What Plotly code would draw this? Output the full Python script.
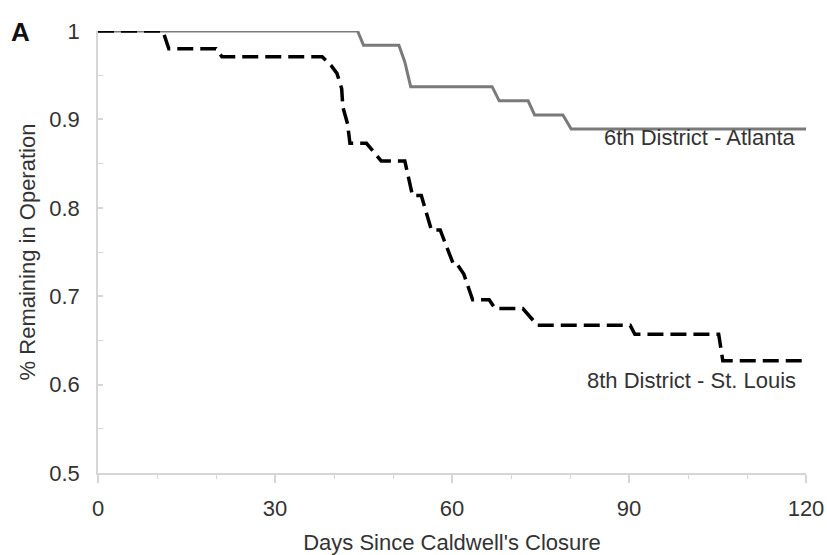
import plotly.graph_objects as go

# Curve vertices (day, fraction remaining)
atl_days = [0, 44, 45, 51, 52, 53, 66.8, 68, 72.9, 74, 78.8, 80.2, 120]
atl_vals = [1.0, 1.0, 0.984, 0.984, 0.965, 0.937, 0.937, 0.921, 0.921, 0.905, 0.905, 0.889, 0.889]

stl_days = [0, 11, 12, 20, 21, 38, 39.5, 40.5, 41.3, 41.5, 42.3, 42.7, 45.5, 48, 52, 53.3,
            54.8, 56.5, 58, 60.3, 61, 62, 63.5, 66.3, 67.3, 72, 74.5, 90.2, 91, 105.2, 105.9, 120]
stl_vals = [1.0, 1.0, 0.980, 0.980, 0.971, 0.971, 0.961, 0.952, 0.935, 0.914, 0.895, 0.873, 0.873,
            0.853, 0.853, 0.814, 0.814, 0.775, 0.775, 0.735, 0.735, 0.725, 0.696, 0.696, 0.686,
            0.686, 0.667, 0.667, 0.657, 0.657, 0.627, 0.627]

x_ticks = [0, 30, 60, 90, 120]
y_ticks = [0.5, 0.6, 0.7, 0.8, 0.9, 1.0]
y_tick_text = ["0.5", "0.6", "0.7", "0.8", "0.9", "1"]

FONT = "Liberation Sans, Arial, sans-serif"
TXT = "#333333"
AX = "#d6d6d6"
FS = 22

fig = go.Figure()
fig.add_trace(go.Scatter(x=atl_days, y=atl_vals, mode="lines",
                         line=dict(color="#7a7a7a", width=3), cliponaxis=False,
                         showlegend=False, hoverinfo="skip"))
fig.add_trace(go.Scatter(x=stl_days, y=stl_vals, mode="lines",
                         line=dict(color="#000000", width=3.5, dash="16px,7px"), cliponaxis=False,
                         showlegend=False, hoverinfo="skip"))

fig.add_annotation(text="6th District - Atlanta", x=118.7, y=0.896, xref="x", yref="y",
                   xanchor="right", yanchor="top", showarrow=False,
                   font=dict(family=FONT, size=FS, color=TXT))
fig.add_annotation(text="8th District - St. Louis", x=118.6, y=0.621, xref="x", yref="y",
                   xanchor="right", yanchor="top", showarrow=False,
                   font=dict(family=FONT, size=FS, color=TXT))
fig.add_annotation(text="<b>A</b>", x=-0.126, y=0.998, xref="paper", yref="paper",
                   xanchor="left", yanchor="middle", showarrow=False,
                   font=dict(family=FONT, size=26, color="#111111"))

fig.update_layout(
    width=827, height=555,
    margin=dict(l=98, r=21, t=31, b=82),
    paper_bgcolor="white", plot_bgcolor="white",
    font=dict(family=FONT, size=FS, color=TXT),
    xaxis=dict(range=[0, 120], tickvals=x_ticks, ticktext=[str(v) for v in x_ticks],
               automargin=False,
               showgrid=False, zeroline=False, showline=True, linecolor=AX, linewidth=1.5,
               ticks="outside", ticklen=8, tickcolor=AX, tickwidth=1.5,
               minor=dict(dtick=10, ticks="outside", ticklen=4, tickcolor=AX, tickwidth=1),
               tickfont=dict(family=FONT, size=FS, color=TXT), ticklabelstandoff=7,
               title=dict(text="Days Since Caldwell's Closure", standoff=16,
                          font=dict(family=FONT, size=FS, color=TXT))),
    yaxis=dict(range=[0.5, 1.0], tickvals=y_ticks, ticktext=y_tick_text,
               automargin=False,
               showgrid=False, zeroline=False, showline=True, linecolor=AX, linewidth=1.5,
               ticks="inside", ticklen=5, tickcolor=AX, tickwidth=1.5,
               minor=dict(dtick=0.05, ticks="inside", ticklen=5, tickcolor=AX, tickwidth=1),
               tickfont=dict(family=FONT, size=FS, color=TXT), ticklabelstandoff=12,
               title=dict(text="% Remaining in Operation", standoff=8,
                          font=dict(family=FONT, size=FS, color=TXT))),
)

fig.write_html("out.html")
